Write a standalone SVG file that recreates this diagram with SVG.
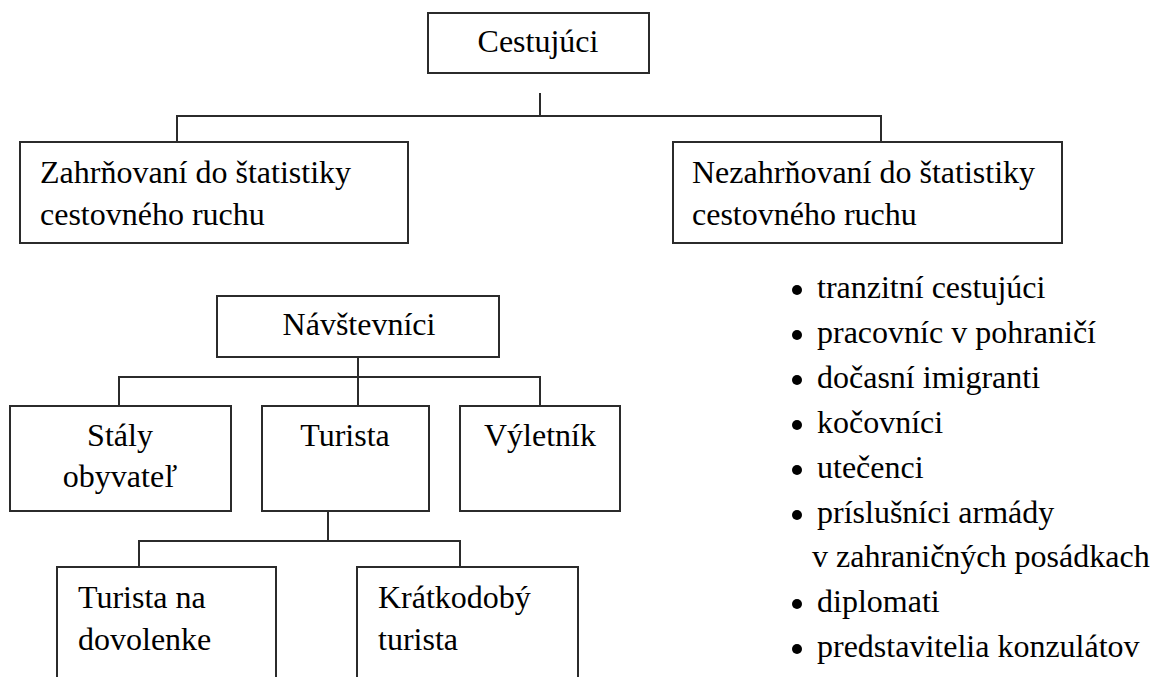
<svg xmlns="http://www.w3.org/2000/svg" width="1167" height="677" viewBox="0 0 1167 677">
<rect width="1167" height="677" fill="#fff"/>
<g id="connectors" fill="none" stroke="#2b2b2b" stroke-width="2">
<path d="M540 93V116M177 116H881M177 115V142M881 115V142"/>
<path d="M358 357V406M119 377H540M119 376V406M540 376V406"/>
<path d="M328 511V541M139 541H460M139 540V567M460 540V567"/>
</g>
<g id="boxes" fill="#fff" stroke="#2b2b2b" stroke-width="2">
<rect id="cestujuci-box" x="428" y="13" width="221" height="60"/>
<rect id="zahrnovani-box" x="20" y="142" width="388" height="101"/>
<rect id="nezahrnovani-box" x="673" y="142" width="389" height="101"/>
<rect id="navstevnici-box" x="217" y="296" width="282" height="61"/>
<rect id="staly-box" x="10" y="406" width="221" height="105"/>
<rect id="turista-box" x="262" y="406" width="167" height="105"/>
<rect id="vyletnik-box" x="460" y="406" width="160" height="105"/>
<rect id="dovolenka-box" x="57" y="567" width="219" height="130"/>
<rect id="kratkodoby-box" x="357" y="567" width="221" height="130"/>
</g>
<g id="labels" font-family="Times New Roman, Liberation Serif, Tinos, serif" font-size="32" fill="#000">
<text text-anchor="middle" x="538" y="52">Cestujúci</text>
<text x="40" y="183">Zahrňovaní do štatistiky</text>
<text x="40" y="225">cestovného ruchu</text>
<text x="692" y="183">Nezahrňovaní do štatistiky</text>
<text x="692" y="225">cestovného ruchu</text>
<text text-anchor="middle" x="359" y="335">Návštevníci</text>
<text text-anchor="middle" x="120" y="446">Stály</text>
<text text-anchor="middle" x="120" y="487">obyvateľ</text>
<text text-anchor="middle" x="345" y="446">Turista</text>
<text text-anchor="middle" x="540" y="446">Výletník</text>
<text x="78" y="608">Turista na</text>
<text x="78" y="650">dovolenke</text>
<text x="378" y="608">Krátkodobý</text>
<text x="378" y="650">turista</text>
</g>
<g id="list" font-family="Times New Roman, Liberation Serif, Tinos, serif" font-size="32" fill="#000">
<circle cx="797" cy="290" r="5"/>
<text x="817" y="298">tranzitní cestujúci</text>
<circle cx="797" cy="335" r="5"/>
<text x="817" y="343">pracovníc v pohraničí</text>
<circle cx="797" cy="380" r="5"/>
<text x="817" y="388">dočasní imigranti</text>
<circle cx="797" cy="425" r="5"/>
<text x="817" y="433">kočovníci</text>
<circle cx="797" cy="470" r="5"/>
<text x="817" y="478">utečenci</text>
<circle cx="797" cy="515" r="5"/>
<text x="817" y="523">príslušníci armády</text>
<text x="812" y="567">v zahraničných posádkach</text>
<circle cx="797" cy="604" r="5"/>
<text x="817" y="612">diplomati</text>
<circle cx="797" cy="649" r="5"/>
<text x="817" y="657">predstavitelia konzulátov</text>
</g>
</svg>
